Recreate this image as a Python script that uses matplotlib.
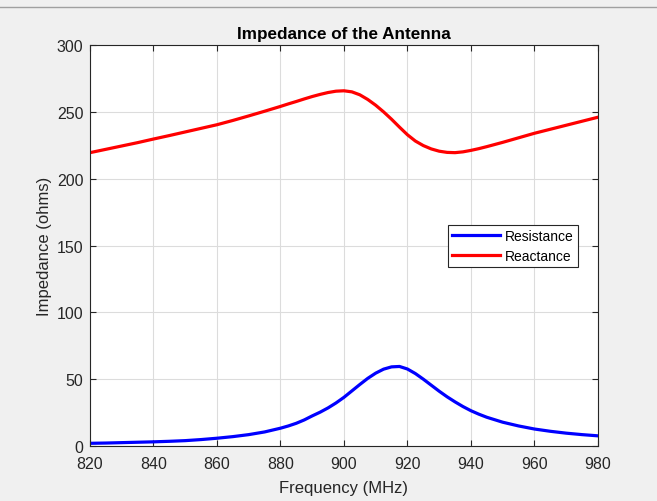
import numpy as np
import matplotlib
matplotlib.use('Agg')
import matplotlib.pyplot as plt
from matplotlib.lines import Line2D

# values
freq = [820, 825, 830, 835, 840, 845, 850, 855, 860, 865, 870, 875, 880, 882.5,
        885, 887.5, 890, 892.5, 895, 897.5, 900, 902.5, 905, 907.5, 910, 912.5,
        915, 917.5, 920, 922.5, 925, 927.5, 930, 932.5, 935, 937.5, 940, 942.5, 945,
        950, 955, 960, 965, 970, 975, 980]
resistance = [2.0, 2.2, 2.5, 2.8, 3.1, 3.5, 4.0, 4.8, 5.8, 7.0, 8.5, 10.5, 13.3, 15.0,
              17.0, 19.5, 22.5, 25.3, 28.5, 32.2, 36.4, 41.2, 46.0, 50.6, 54.5, 57.5,
              59.2, 59.5, 57.6, 54.2, 50.0, 45.5, 41.0, 36.8, 33.0, 29.5, 26.4, 23.8, 21.5,
              17.8, 15.0, 12.7, 11.0, 9.6, 8.5, 7.6]
reactance = [219.5, 222.0, 224.5, 227.0, 229.7, 232.3, 235.0, 237.7, 240.4, 243.6, 247.0, 250.5, 254.1, 256.0,
             257.8, 259.7, 261.5, 263.1, 264.5, 265.5, 265.8, 265.0, 262.8, 259.3, 255.0, 250.0,
             244.5, 238.6, 232.9, 228.2, 224.8, 222.3, 220.6, 219.7, 219.5, 220.1, 221.2, 222.5, 224.0,
             227.2, 230.6, 234.0, 237.0, 240.0, 243.0, 246.0]
xticks = [820, 840, 860, 880, 900, 920, 940, 960, 980]
yticks = [0, 50, 100, 150, 200, 250, 300]

plt.rcParams['font.family'] = ['Liberation Sans', 'DejaVu Sans']

fig = plt.figure(figsize=(6.57, 5.02), dpi=100, facecolor='#f0f0f0')
ax = fig.add_axes([0.137, 0.1096, 0.773, 0.7986])
ax.set_facecolor('white')

ax.plot(freq, resistance, color='#0000ff', linewidth=2.3, label='Resistance')
ax.plot(freq, reactance, color='#ff0000', linewidth=2.3, label='Reactance')

ax.set_xlim(820, 980)
ax.set_ylim(0, 300)
ax.set_xticks(xticks)
ax.set_yticks(yticks)
ax.grid(True, color='#dcdcdc', linewidth=0.8)
ax.set_axisbelow(True)
ax.tick_params(direction='in', top=True, right=True, labelsize=11.5,
               colors='#262626', length=4, width=0.8)
ax.tick_params(axis='x', pad=7)
ax.tick_params(axis='y', pad=4.7)
for s in ax.spines.values():
    s.set_color('#262626')
    s.set_linewidth(0.8)

ax.set_title('Impedance of the Antenna', fontsize=12.3, fontweight='bold', pad=5)
ax.set_xlabel('Frequency (MHz)', fontsize=12, color='#262626', labelpad=6.5)
ax.set_ylabel('Impedance (ohms)', fontsize=12, color='#262626', labelpad=3.5)

leg = ax.legend(loc='upper right', bbox_to_anchor=(0.961, 0.551), fontsize=10,
                fancybox=False, framealpha=1, edgecolor='#262626', borderaxespad=0,
                handlelength=3.4, borderpad=0.3, labelspacing=0.42, handletextpad=0.4)
leg.get_frame().set_linewidth(0.8)

# thin line at the top of the screenshot
fig.add_artist(Line2D([0, 1], [0.985, 0.985], color='#a0a0a0', linewidth=1,
                      transform=fig.transFigure))

fig.savefig('out.png', dpi=100, facecolor=fig.get_facecolor())
